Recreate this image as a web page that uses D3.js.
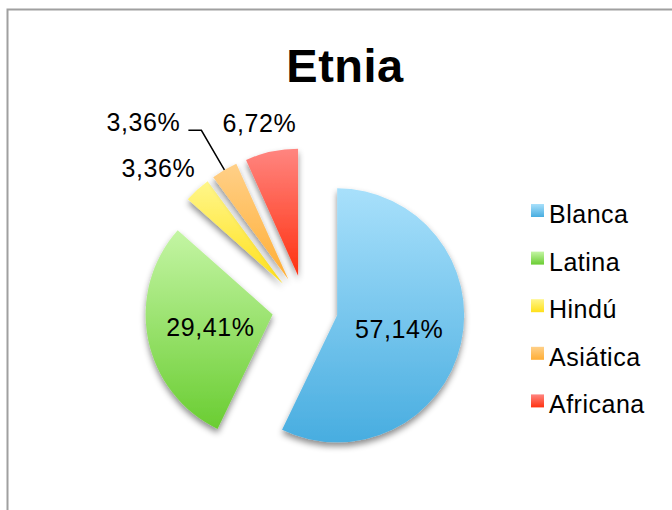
<!DOCTYPE html>
<html>
<head>
<meta charset="utf-8">
<script src="https://cdn.jsdelivr.net/npm/d3@7"></script>
<style>
  body { margin: 0; background: #fff; }
  svg { display: block; }
  text { font-family: Helvetica, "Liberation Sans", Arial, sans-serif; }
</style>
</head>
<body>
<div id="chart"></div>
<script>
// data
const categories = ['Blanca', 'Latina', 'Hindú', 'Asiática', 'Africana'];
const values = [57.14, 29.41, 3.36, 3.36, 6.72];
const labelModes = ['inside', 'inside', 'outside', 'leader', 'outside'];
const colorsTop = ['#a8e0fb', '#c4f5a4', '#fff68a', '#ffd088', '#ff8580'];
const colorsBottom = ['#48ade0', '#6acd32', '#ffe01a', '#ffae35', '#ff3210'];

// constants
const width = 672;
const height = 510;
const originX = 305;
const originY = 308;
const radius = 127;
const explode = 33;

const fmt = d3.formatLocale({ decimal: ',', thousands: '.', grouping: [3], currency: ['', ''] }).format('.2f');

const svg = d3.select('#chart')
    .append('svg').attr('width', width).attr('height', height);

const defs = svg.append('defs');

// soft drop shadow under the slices
const shadow = defs.append('filter')
    .attr('id', 'shadow')
    .attr('x', '-20%').attr('y', '-20%')
    .attr('width', '140%').attr('height', '140%');
shadow.append('feDropShadow')
    .attr('dx', 0).attr('dy', 4)
    .attr('stdDeviation', 3)
    .attr('flood-color', '#000')
    .attr('flood-opacity', 0.45);

// vertical gradients per category
categories.forEach((c, i) => {
    const g = defs.append('linearGradient')
        .attr('id', `grad${i}`)
        .attr('x1', 0).attr('y1', 0).attr('x2', 0).attr('y2', 1);
    g.append('stop').attr('offset', '0%').attr('stop-color', colorsTop[i]);
    g.append('stop').attr('offset', '100%').attr('stop-color', colorsBottom[i]);
});

// frame
svg.append('rect')
    .attr('x', 7.5).attr('y', 9.5)
    .attr('width', 800).attr('height', 600)
    .attr('fill', 'none')
    .attr('stroke', '#a0a0a0')
    .attr('stroke-width', 2);

// title
svg.append('text')
    .text('Etnia')
    .attr('x', 345)
    .attr('y', 82)
    .attr('text-anchor', 'middle')
    .attr('font-size', 47)
    .attr('font-weight', 'bold')
    .attr('letter-spacing', 0.5)
    .attr('fill', '#000');

const pie = d3.pie().sort(null).value(d => d);
const arcs = pie(values);

const arc = d3.arc()
    .innerRadius(0)
    .outerRadius(radius);

// unit vector of the slice's middle angle
const dir = (d) => {
    const a = (d.startAngle + d.endAngle) / 2;
    return [Math.sin(a), -Math.cos(a)];
};

const slices = svg.append('g')
    .attr('transform', `translate(${originX},${originY})`);

slices.selectAll('path')
    .data(arcs)
    .join('path')
    .attr('d', arc)
    .attr('fill', (d, i) => `url(#grad${i})`)
    .attr('filter', 'url(#shadow)')
    .attr('transform', d => {
        const [ux, uy] = dir(d);
        return `translate(${ux * explode},${uy * explode})`;
    });

// labels
const labels = svg.append('g')
    .attr('transform', `translate(${originX},${originY})`)
    .attr('font-size', 25)
    .attr('letter-spacing', 0.6);

const capH = 18;
const charW = (s) => s.length * 15;

arcs.forEach((d, i) => {
    const [ux, uy] = dir(d);
    const tipX = ux * explode;
    const tipY = uy * explode;
    const txt = fmt(d.data) + '%';
    if (labelModes[i] === 'inside') {
        const r = radius * 0.5;
        labels.append('text')
            .text(txt)
            .attr('x', tipX + ux * r)
            .attr('y', tipY + uy * r + capH / 2)
            .attr('text-anchor', 'middle');
    } else if (labelModes[i] === 'outside') {
        const r = radius + 20;
        const w = charW(txt);
        const cx = tipX + ux * r + ux * w / 2;
        const cy = tipY + uy * r + uy * capH / 2;
        labels.append('text')
            .text(txt)
            .attr('x', cx)
            .attr('y', cy + capH / 2)
            .attr('text-anchor', 'middle');
    } else {
        const p0 = [tipX + ux * radius, tipY + uy * radius];
        const p1 = [tipX + ux * radius * 1.36, tipY + uy * radius * 1.36];
        const p2 = [p1[0] - 13, p1[1]];
        labels.append('path')
            .attr('d', d3.line()([p0, p1, p2]))
            .attr('fill', 'none')
            .attr('stroke', '#000')
            .attr('stroke-width', 1.5);
        labels.append('text')
            .text(txt)
            .attr('x', p2[0] - 8)
            .attr('y', p2[1] + 1)
            .attr('text-anchor', 'end');
    }
});

// legend
const legend = svg.append('g')
    .attr('transform', 'translate(531,223)')
    .attr('font-size', 25)
    .attr('letter-spacing', 0.5);

const item = legend.selectAll('g')
    .data(categories)
    .join('g')
    .attr('transform', (d, i) => `translate(0,${i * 47.6})`);

item.append('rect')
    .attr('x', 0).attr('y', -19)
    .attr('width', 13).attr('height', 13)
    .attr('fill', (d, i) => `url(#grad${i})`);

item.append('text')
    .text(d => d)
    .attr('x', 18)
    .attr('y', 0)
    .attr('fill', '#000');
</script>
</body>
</html>
